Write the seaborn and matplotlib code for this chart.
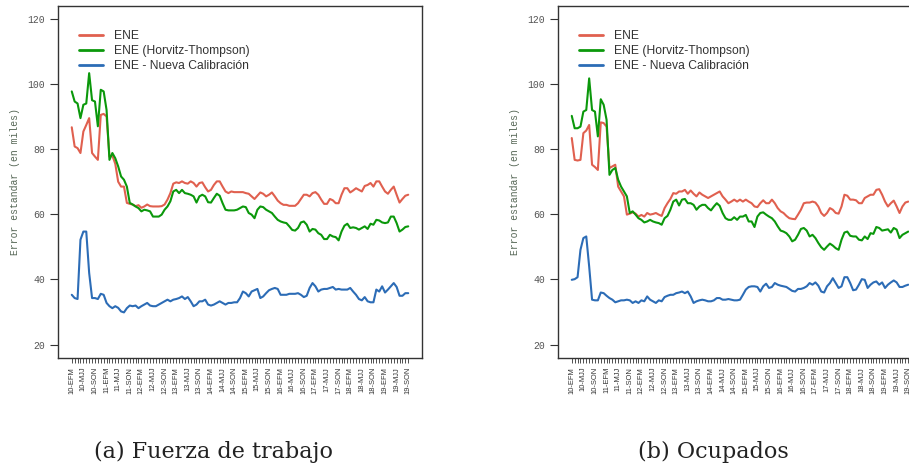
import matplotlib
matplotlib.use("Agg")
import matplotlib.pyplot as plt
import numpy as np
import pandas as pd
import seaborn as sns

# Rolling quarters (trimestres móviles) from 10-EFM to 19-SON
years = list(range(10, 20))
trimestres = ["EFM", "FMA", "MAM", "AMJ", "MJJ", "JJA",
              "JAS", "ASO", "SON", "OND", "NDE", "DEF"]
periods = [f"{y}-{t}" for y in years for t in trimestres][:117]
labelled = ["EFM", "MJJ", "SON"]

series_names = ["ENE", "ENE (Horvitz-Thompson)", "ENE - Nueva Calibración"]
series_colors = ["#e0604f", "#0b980b", "#2c6cb6"]

# (a) Fuerza de trabajo
ft_ene = [86.7, 80.8, 80.3, 78.8, 85.4, 87.4, 89.5, 78.8, 77.7, 76.7,
          90.5, 90.8, 90.0, 77.7, 78.0, 75.5, 70.0, 68.5, 68.5, 63.5,
          63.2, 63.0, 62.5, 62.8, 62.0, 62.4, 63.0, 62.5, 62.4, 62.4,
          62.4, 62.5, 63.0, 64.5, 66.5, 69.4, 69.8, 69.6, 70.1, 69.6,
          69.4, 70.1, 69.6, 68.5, 69.6, 69.8, 68.3, 67.0, 67.5, 69.0,
          70.1, 70.1, 68.5, 67.0, 66.5, 67.0, 66.8, 66.8, 66.8, 66.8,
          66.5, 66.3, 65.5, 64.7, 65.7, 66.7, 66.3, 65.5, 66.0, 66.7,
          65.5, 64.2, 63.4, 62.9, 62.9, 62.6, 62.6, 62.6, 63.4, 64.7,
          66.0, 66.0, 65.5, 66.5, 66.8, 66.0, 64.5, 63.2, 63.2, 64.7,
          64.3, 63.4, 63.4, 66.0, 68.0, 68.0, 66.7, 67.3, 68.0, 67.5,
          67.0, 68.7, 69.0, 69.6, 68.5, 70.1, 70.1, 68.5, 67.0, 66.3,
          67.5, 68.5, 66.0, 63.6, 64.7, 65.7, 66.0]
ft_ht = [97.7, 94.6, 94.0, 89.5, 93.6, 94.0, 103.3, 95.0, 94.6, 87.0,
         98.2, 97.7, 92.0, 76.7, 78.8, 77.2, 74.7, 71.6, 70.6, 68.5,
         63.5, 63.0, 62.4, 61.9, 60.9, 61.4, 61.2, 60.9, 59.3, 59.3,
         59.3, 59.9, 61.4, 62.4, 64.0, 67.0, 67.5, 66.5, 67.5, 66.5,
         66.3, 66.0, 65.5, 63.6, 65.5, 66.0, 65.5, 63.7, 63.6, 65.0,
         66.3, 65.7, 63.4, 61.4, 61.2, 61.2, 61.2, 61.4, 61.9, 62.4,
         62.2, 60.4, 59.9, 58.8, 61.4, 62.4, 62.2, 61.4, 60.9, 60.4,
         59.3, 58.3, 57.8, 57.5, 57.3, 56.3, 55.2, 55.0, 55.8, 57.5,
         57.8, 56.8, 54.7, 55.5, 55.3, 54.2, 53.7, 52.4, 52.4, 53.7,
         53.2, 53.0, 52.0, 54.7, 56.5, 57.1, 55.8, 56.0, 55.8, 55.3,
         55.8, 56.3, 55.5, 57.1, 56.8, 58.3, 58.1, 57.5, 57.3, 57.5,
         59.3, 59.3, 57.3, 54.7, 55.3, 56.1, 56.3]
ft_nc = [35.3, 34.3, 34.0, 52.2, 54.7, 54.7, 42.0, 34.3, 34.3, 34.0,
         35.6, 35.3, 32.8, 31.8, 31.2, 31.8, 31.3, 30.2, 29.9, 31.2,
         32.0, 31.8, 32.0, 31.2, 31.8, 32.3, 32.8, 32.0, 31.8, 31.8,
         32.3, 32.8, 33.3, 33.8, 33.3, 33.8, 34.0, 34.3, 34.8, 34.0,
         34.6, 33.3, 31.8, 32.3, 33.3, 33.3, 33.8, 32.3, 32.0, 32.3,
         32.8, 33.3, 32.8, 32.3, 32.8, 32.8, 33.0, 33.0, 34.3, 36.3,
         35.8, 34.8, 36.3, 36.7, 37.1, 34.3, 34.8, 35.8, 36.7, 37.1,
         37.4, 37.1, 35.3, 35.3, 35.3, 35.6, 35.6, 35.6, 35.8, 35.3,
         34.6, 35.0, 37.4, 38.9, 37.9, 36.3, 36.9, 37.1, 37.1, 37.4,
         37.7, 36.9, 37.1, 36.9, 36.9, 36.9, 37.4, 36.3, 35.3, 34.0,
         33.6, 34.6, 33.3, 33.0, 33.0, 36.9, 36.3, 37.9, 36.0, 36.9,
         37.9, 38.9, 37.7, 35.0, 35.0, 35.8, 35.8]

# (b) Ocupados
oc_ene = [83.4, 76.7, 76.5, 76.7, 84.9, 85.7, 87.4, 75.2, 74.5, 73.6,
          88.2, 88.0, 86.9, 74.2, 74.7, 75.2, 68.5, 67.0, 65.5, 59.9,
          60.2, 60.6, 60.2, 59.3, 59.8, 59.3, 60.4, 59.9, 60.1, 60.4,
          59.9, 59.5, 61.9, 63.4, 64.7, 66.5, 66.3, 67.0, 67.0, 67.5,
          66.3, 67.3, 66.3, 65.5, 66.7, 66.0, 65.5, 65.0, 65.5, 66.0,
          66.5, 67.0, 65.5, 64.5, 63.4, 63.9, 64.5, 63.9, 64.5, 63.9,
          64.5, 63.9, 63.4, 62.4, 62.2, 63.4, 64.3, 63.4, 63.4, 64.5,
          63.4, 61.9, 60.9, 60.4, 59.5, 58.8, 58.6, 58.5, 59.9, 61.4,
          63.4, 63.6, 63.6, 63.9, 63.6, 62.4, 60.4, 59.5, 60.4, 61.9,
          61.4, 60.4, 60.2, 62.4, 66.0, 65.7, 64.5, 64.5, 64.3, 63.4,
          63.4, 65.0, 65.5, 66.0, 66.0, 67.5, 67.7, 66.0, 63.9, 62.4,
          63.4, 64.2, 62.4, 60.4, 62.4, 63.6, 63.9]
oc_ht = [90.2, 86.4, 86.4, 86.9, 91.5, 92.0, 101.7, 92.0, 91.5, 83.9,
         95.3, 93.6, 89.0, 72.1, 73.6, 74.2, 70.6, 68.5, 67.0, 65.5,
         60.4, 60.9, 59.9, 58.8, 58.3, 57.5, 57.8, 58.3, 57.8, 57.5,
         57.3, 56.8, 58.8, 59.5, 61.4, 63.9, 64.5, 62.7, 64.5, 64.7,
         63.4, 63.4, 62.9, 61.4, 62.4, 62.9, 62.9, 61.9, 61.2, 62.4,
         63.4, 62.6, 60.4, 58.8, 58.3, 58.3, 59.1, 58.3, 59.3, 59.3,
         59.8, 57.8, 57.8, 56.1, 59.3, 60.4, 60.6, 59.9, 59.3, 58.8,
         57.8, 56.3, 55.0, 54.7, 54.2, 53.2, 51.7, 52.2, 53.7, 55.5,
         55.8, 55.0, 53.2, 53.7, 52.7, 51.2, 49.9, 49.1, 50.1, 51.0,
         50.4, 49.6, 49.1, 52.2, 54.4, 54.7, 53.4, 53.2, 53.2, 52.2,
         52.0, 53.2, 52.4, 54.2, 54.0, 56.1, 55.8, 55.0, 55.2, 55.4,
         54.4, 55.8, 55.3, 52.7, 53.7, 54.2, 54.7]
oc_nc = [39.9, 40.1, 40.7, 49.1, 52.7, 53.2, 44.0, 33.8, 33.6, 33.6,
         36.0, 35.8, 35.0, 34.3, 33.8, 33.0, 33.3, 33.6, 33.6, 33.8,
         33.6, 32.8, 33.3, 32.8, 33.6, 33.3, 34.8, 33.8, 33.3, 32.8,
         33.6, 33.3, 34.6, 35.0, 35.3, 35.3, 35.8, 36.0, 36.3, 35.8,
         36.3, 34.8, 32.8, 33.3, 33.6, 33.8, 33.6, 33.3, 33.3, 33.6,
         34.3, 34.3, 33.8, 33.8, 34.0, 33.8, 33.6, 33.6, 33.8, 35.3,
         36.9, 37.7, 37.9, 37.9, 37.7, 36.3, 37.9, 38.7, 37.4, 37.7,
         38.9, 38.4, 38.1, 37.9, 37.7, 37.1, 36.5, 36.3, 37.1, 37.1,
         37.4, 37.9, 38.9, 38.4, 39.1, 38.1, 36.3, 36.0, 37.9, 38.9,
         40.4, 38.9, 37.4, 37.9, 40.7, 40.7, 38.9, 36.7, 36.9, 38.4,
         40.1, 39.9, 37.4, 38.4, 39.1, 39.4, 38.4, 39.1, 37.4, 38.4,
         39.1, 39.7, 39.1, 37.7, 37.7, 38.1, 38.4]

captions = ["(a) Fuerza de trabajo", "(b) Ocupados"]
y_label = "Error estandar (en miles)"
y_ticks = [20, 40, 60, 80, 100, 120]

sns.set_style("white")
plt.rcParams["font.family"] = ["Liberation Sans", "DejaVu Sans"]

W, H = 909, 465
fig = plt.figure(figsize=(W / 100, H / 100), dpi=100)
fig.patch.set_facecolor("white")


def px_box(left, top, right, bottom):
    return [left / W, 1 - bottom / H, (right - left) / W, (bottom - top) / H]


panels = [
    (px_box(58.3, 5.7, 421.7, 357.7), [ft_ene, ft_ht, ft_nc], captions[0], 214),
    (px_box(558.3, 5.7, 921.7, 357.7), [oc_ene, oc_ht, oc_nc], captions[1], 713),
]

idx = np.arange(len(periods))
tick_labels = [p if p.split("-")[1] in labelled and i % 4 == 0 else ""
               for i, p in enumerate(periods)]

for box, values, caption, cap_x in panels:
    ax = fig.add_axes(box)
    df = pd.DataFrame({
        "t": np.tile(idx, 3),
        "valor": np.concatenate(values),
        "serie": np.repeat(series_names, len(periods)),
    })
    for name, color in zip(series_names, series_colors):
        sub = df[df["serie"] == name]
        sns.lineplot(data=sub, x="t", y="valor", ax=ax, color=color,
                     linewidth=1.5, label=name)

    span = len(periods) - 1
    ax.set_xlim(-0.04 * span, span * 1.04)
    ax.set_ylim(16, 124)

    ax.set_xticks(idx)
    ax.set_xticklabels(tick_labels, rotation=90, fontsize=5.4,
                       family=["Liberation Sans"], color="#333333")
    ax.set_yticks(y_ticks)
    ax.set_yticklabels([str(v) for v in y_ticks], fontsize=7,
                       family=["Liberation Mono"], color="#555555")
    ax.tick_params(axis="x", direction="out", length=3.6, width=0.6,
                   color="#333333", pad=3, bottom=True)
    ax.tick_params(axis="y", direction="out", length=5.5, width=0.8,
                   color="#333333", pad=4, left=True)
    ax.set_xlabel("")
    ax.set_ylabel(y_label, fontsize=7, family=["Liberation Mono"],
                  color="#556655")
    ax.yaxis.set_label_coords(-0.105, 0.5)
    for s in ax.spines.values():
        s.set_visible(True)
        s.set_color("#333333")
        s.set_linewidth(1.0)

    left_px = box[0] * W
    leg = ax.legend(loc="upper left",
                    bbox_to_anchor=((left_px + 21) / W, 1 - 30 / H),
                    bbox_transform=fig.transFigure,
                    frameon=False, fontsize=8.7, handlelength=2.0,
                    handletextpad=0.85, labelspacing=0.25,
                    borderpad=0, borderaxespad=0)
    for line in leg.get_lines():
        line.set_linewidth(2.0)
    for txt in leg.get_texts():
        txt.set_color("#333333")

    fig.text(cap_x / W, 1 - 452 / H, caption, ha="center", va="center",
             family=["DejaVu Serif"], fontsize=16, color="#222222")

fig.savefig("out.png", dpi=100, facecolor="white")
